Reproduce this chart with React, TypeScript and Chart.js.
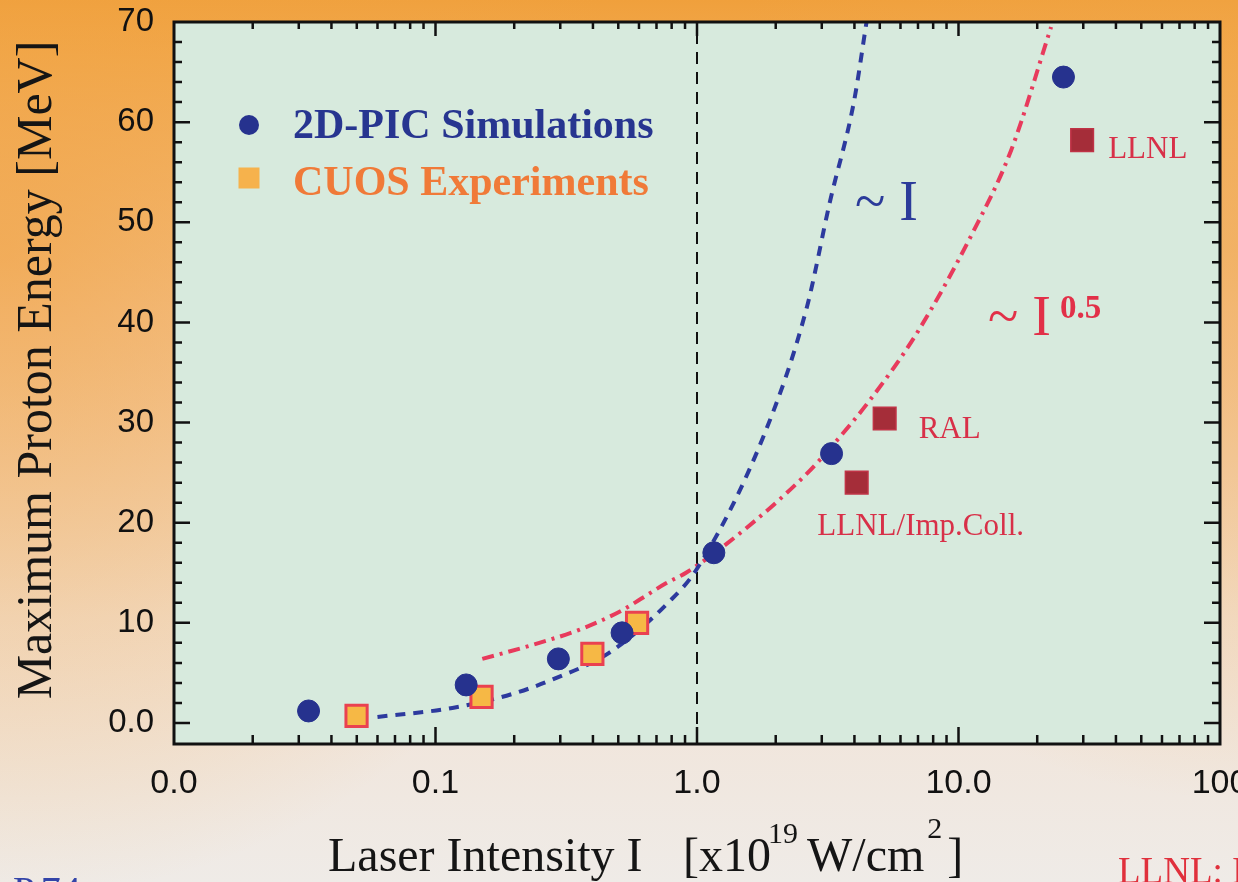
import React, { useEffect, useRef } from 'react';
import { Chart, registerables } from 'chart.js';

Chart.register(...registerables);

// ---- tick labels ----
const xTickValues = [0.01, 0.1, 1, 10, 100];
const xTickLabels = ['0.0', '0.1', '1.0', '10.0', '100'];
const yTickValues = [0, 10, 20, 30, 40, 50, 60, 70];
const yTickLabels = ['0.0', '10', '20', '30', '40', '50', '60', '70'];

// ---- 2D-PIC simulations ----
const simX = [0.0327, 0.131, 0.295, 0.517, 1.16, 3.27, 25.2];
const simY = [1.2, 3.8, 6.4, 9.0, 17.0, 26.9, 64.5];

// ---- CUOS experiments ----
const cuosX = [0.0499, 0.15, 0.398, 0.59];
const cuosY = [0.7, 2.6, 6.9, 10.0];

// ---- other labs ----
const otherLabels = ['LLNL', 'RAL', 'LLNL/Imp.Coll.'];
const otherX = [29.7, 5.22, 4.08];
const otherY = [58.2, 30.4, 24.0];

// ---- ~I curve (blue dashed) ----
const linFitX = [0.06, 0.116, 0.197, 0.29, 0.461, 0.775, 1.0, 1.82, 2.63, 3.22, 3.98, 4.45];
const linFitY = [0.6, 1.5, 2.9, 4.5, 7.0, 12.0, 15.4, 29.0, 41.5, 52.0, 62.0, 70.0];

// ---- ~I^0.5 curve (red dash-dot) ----
const sqrtFitX = [0.151, 0.235, 0.354, 0.513, 0.611, 0.755, 0.908, 1.55, 2.63, 3.22, 4.57, 6.92, 11.3, 15.9, 22.6];
const sqrtFitY = [6.4, 7.8, 9.3, 11.2, 12.4, 13.9, 15.0, 19.5, 24.9, 27.4, 32.2, 38.9, 48.9, 57.2, 69.5];

// ---- reference line ----
const refLineX = [1, 1];
const refLineY = [-2.1, 70];

const zip = (xs: number[], ys: number[]) => xs.map((x, i) => ({ x, y: ys[i] }));

const SERIF = '"Liberation Serif", "DejaVu Serif", serif';
const SANS = '"Liberation Sans", Arial, sans-serif';

const bgPlugin = {
  id: 'bgPlugin',
  beforeDraw(chart: any) {
    const { ctx, width, height, chartArea: ca } = chart;
    ctx.save();
    const g = ctx.createLinearGradient(0, 0, 0, height);
    g.addColorStop(0, '#f0a03c');
    g.addColorStop(0.06, '#f2a84c');
    g.addColorStop(0.35, '#f4c596');
    g.addColorStop(0.7, '#f2e2d4');
    g.addColorStop(1, '#efebe7');
    ctx.fillStyle = g;
    ctx.fillRect(0, 0, width, height);
    const rl = ctx.createRadialGradient(0, 250, 10, 0, 250, 650);
    rl.addColorStop(0, 'rgba(240,160,60,0.6)');
    rl.addColorStop(1, 'rgba(240,170,80,0)');
    ctx.fillStyle = rl;
    ctx.fillRect(0, 0, width, height);
    const rr = ctx.createRadialGradient(width, 250, 10, width, 250, 550);
    rr.addColorStop(0, 'rgba(240,165,70,0.5)');
    rr.addColorStop(1, 'rgba(240,170,80,0)');
    ctx.fillStyle = rr;
    ctx.fillRect(0, 0, width, height);
    ctx.fillStyle = '#d7eadd';
    ctx.fillRect(ca.left, ca.top, ca.right - ca.left, ca.bottom - ca.top);
    ctx.restore();
  },
};

const decorPlugin = {
  id: 'decorPlugin',
  afterDraw(chart: any) {
    const { ctx, chartArea: ca } = chart;
    const xs = chart.scales.x;
    const ys = chart.scales.y;
    ctx.save();
    // frame
    ctx.strokeStyle = '#111';
    ctx.lineWidth = 3;
    ctx.strokeRect(ca.left, ca.top, ca.right - ca.left, ca.bottom - ca.top);
    // x ticks (inward, top and bottom)
    ctx.lineWidth = 2.5;
    ctx.beginPath();
    for (let d = 0; d < xTickValues.length; d++) {
      const dec = xTickValues[d];
      const px = xs.getPixelForValue(dec);
      if (d > 0 && d < xTickValues.length - 1) {
        ctx.moveTo(px, ca.bottom); ctx.lineTo(px, ca.bottom - 17);
        ctx.moveTo(px, ca.top); ctx.lineTo(px, ca.top + 14);
      }
      if (d < xTickValues.length - 1) {
        for (let k = 2; k <= 9; k++) {
          const mx = xs.getPixelForValue(dec * k);
          ctx.moveTo(mx, ca.bottom); ctx.lineTo(mx, ca.bottom - 9);
          ctx.moveTo(mx, ca.top); ctx.lineTo(mx, ca.top + 7);
        }
      }
    }
    // y ticks (inward, left and right)
    for (let v = 0; v <= 70; v += 2) {
      const py = ys.getPixelForValue(v);
      const major = v % 10 === 0;
      const len = major ? 16 : 8;
      if (v === 70) continue;
      ctx.moveTo(ca.left, py); ctx.lineTo(ca.left + len, py);
      ctx.moveTo(ca.right, py); ctx.lineTo(ca.right - len, py);
    }
    ctx.stroke();

    // legend
    ctx.fillStyle = '#26328e';
    ctx.beginPath();
    ctx.arc(249, 125, 10, 0, Math.PI * 2);
    ctx.fill();
    ctx.fillStyle = '#f6b24c';
    ctx.fillRect(238.5, 167.5, 21, 21);
    ctx.textAlign = 'left';
    ctx.textBaseline = 'alphabetic';
    ctx.font = `bold 42px ${SERIF}`;
    ctx.fillStyle = '#273590';
    ctx.fillText('2D-PIC Simulations', 293, 138);
    ctx.fillStyle = '#f07a38';
    ctx.fillText('CUOS Experiments', 293, 195);

    // scaling labels
    ctx.font = `56px ${SERIF}`;
    ctx.fillStyle = '#2b3b9a';
    ctx.fillText('~ I', 855, 220);
    ctx.fillStyle = '#e23048';
    ctx.fillText('~ I', 988, 335);
    ctx.font = `bold 33px ${SERIF}`;
    ctx.fillText('0.5', 1060, 318);

    // lab labels
    ctx.font = `31px ${SERIF}`;
    ctx.fillStyle = '#d83048';
    const offs = [[26, 18, 'left'], [34, 19, 'left'], [64, 52, 'center']];
    for (let i = 0; i < otherLabels.length; i++) {
      const px = xs.getPixelForValue(otherX[i]);
      const py = ys.getPixelForValue(otherY[i]);
      ctx.textAlign = offs[i][2] as CanvasTextAlign;
      ctx.fillText(otherLabels[i], px + (offs[i][0] as number), py + (offs[i][1] as number));
    }

    // x title with superscripts
    ctx.textAlign = 'left';
    ctx.fillStyle = '#151515';
    ctx.font = `48px ${SERIF}`;
    ctx.fillText('Laser Intensity I', 328, 871);
    let cx = 683;
    ctx.fillText('[x10', cx, 871);
    cx += ctx.measureText('[x10').width;
    ctx.font = `30px ${SERIF}`;
    ctx.fillText('19', cx - 3, 843);
    cx += ctx.measureText('19').width;
    ctx.font = `48px ${SERIF}`;
    ctx.fillText(' W/cm', cx - 6, 871);
    cx += ctx.measureText(' W/cm').width - 6;
    ctx.font = `30px ${SERIF}`;
    ctx.fillText('2', cx + 3, 838);
    cx += ctx.measureText('2').width + 3;
    ctx.font = `48px ${SERIF}`;
    ctx.fillText(']', cx + 5, 871);

    // y title
    ctx.save();
    ctx.translate(51, 370);
    ctx.rotate(-Math.PI / 2);
    ctx.textAlign = 'center';
    ctx.font = `50px ${SERIF}`;
    ctx.fillStyle = '#151515';
    ctx.fillText('Maximum Proton Energy [MeV]', 0, 0);
    ctx.restore();

    // cut-off footer texts
    ctx.textAlign = 'left';
    ctx.font = `40px ${SERIF}`;
    ctx.fillStyle = '#3344a8';
    ctx.fillText('P.74', 13, 904);
    ctx.font = `37px ${SERIF}`;
    ctx.fillStyle = '#e0303c';
    ctx.fillText('LLNL: I', 1118, 883);

    ctx.restore();
  },
};

export default function App() {
  const ref = useRef<HTMLCanvasElement | null>(null);
  useEffect(() => {
    document.body.style.margin = '0';
    const canvas = ref.current;
    if (!canvas) return;
    const chart = new Chart(canvas, {
      type: 'scatter',
      data: {
        datasets: [
          {
            label: '2D-PIC Simulations',
            data: zip(simX, simY),
            pointStyle: 'circle',
            pointRadius: 11,
            backgroundColor: '#26328e',
            borderColor: '#26328e',
            borderWidth: 1,
          },
          {
            label: 'CUOS Experiments',
            data: zip(cuosX, cuosY),
            pointStyle: 'rect',
            pointRadius: 15,
            backgroundColor: '#f6b845',
            borderColor: '#ea4150',
            borderWidth: 3,
          },
          {
            label: 'Other labs',
            data: zip(otherX, otherY),
            pointStyle: 'rect',
            pointRadius: 16,
            backgroundColor: '#a52d39',
            borderColor: '#c03346',
            borderWidth: 1.5,
          },
          {
            label: '~I',
            type: 'line',
            data: zip(linFitX, linFitY),
            showLine: true,
            pointRadius: 0,
            borderColor: '#2d3a9e',
            borderWidth: 4,
            borderDash: [10, 8],
            cubicInterpolationMode: 'monotone',
            fill: false,
          },
          {
            label: '~I^0.5',
            type: 'line',
            data: zip(sqrtFitX, sqrtFitY),
            showLine: true,
            pointRadius: 0,
            borderColor: '#e83a5c',
            borderWidth: 4,
            borderDash: [12, 6, 3, 6],
            cubicInterpolationMode: 'monotone',
            fill: false,
          },
          {
            label: 'ref',
            type: 'line',
            data: zip(refLineX, refLineY),
            showLine: true,
            pointRadius: 0,
            borderColor: '#111',
            borderWidth: 2,
            borderDash: [12, 8],
            fill: false,
          },
        ],
      } as any,
      options: {
        responsive: false,
        animation: false,
        devicePixelRatio: 1,
        layout: { padding: { left: 0, right: 17, top: 22, bottom: 0 } },
        plugins: { legend: { display: false }, tooltip: { enabled: false }, title: { display: false } },
        scales: {
          x: {
            type: 'logarithmic',
            min: 0.01,
            max: 100,
            afterBuildTicks: (s: any) => {
              s.ticks = xTickValues.map((v) => ({ value: v }));
            },
            afterFit: (s: any) => {
              s.height = 138;
              s.paddingLeft = 0;
              s.paddingRight = 0;
            },
            ticks: {
              autoSkip: false,
              maxRotation: 0,
              padding: 19,
              color: '#111',
              font: { family: SANS, size: 34 },
              callback: (v: any) => {
                const i = xTickValues.findIndex((t) => Math.abs(t - v) < 1e-6 * t);
                return i >= 0 ? xTickLabels[i] : '';
              },
            },
            grid: { display: false, drawTicks: false },
            border: { display: false },
          },
          y: {
            type: 'linear',
            min: -2.1,
            max: 70,
            afterBuildTicks: (s: any) => {
              s.ticks = yTickValues.map((v) => ({ value: v }));
            },
            afterFit: (s: any) => {
              s.width = 174;
              s.paddingTop = 0;
              s.paddingBottom = 0;
            },
            ticks: {
              padding: 20,
              color: '#111',
              font: { family: SANS, size: 33 },
              callback: (v: any) => {
                const i = yTickValues.indexOf(v);
                return i >= 0 ? yTickLabels[i] : '';
              },
            },
            grid: { display: false, drawTicks: false },
            border: { display: false },
          },
        },
      } as any,
      plugins: [bgPlugin, decorPlugin],
    });
    return () => chart.destroy();
  }, []);
  return (
    <div style={{ width: 1238, height: 882, overflow: 'hidden' }}>
      <canvas ref={ref} width={1238} height={882} style={{ display: 'block' }} />
    </div>
  );
}
